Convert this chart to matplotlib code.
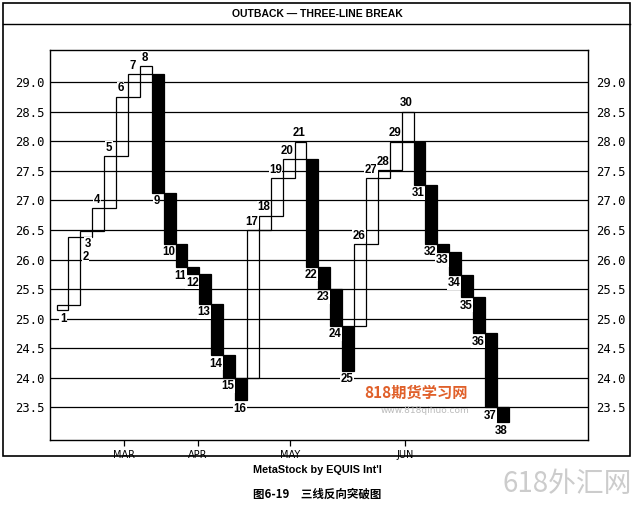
import matplotlib
matplotlib.use("Agg")
import matplotlib.pyplot as plt
from matplotlib.lines import Line2D
from matplotlib.patches import Rectangle

# three-line break lines
bar_open = [25.15, 25.23, 26.38, 26.49, 26.87, 27.75, 28.75, 29.13,
            29.13, 27.13, 26.26, 25.87, 25.75, 25.25, 24.38, 24.00,
            24.00, 26.50, 26.74, 27.37, 27.69,
            27.69, 25.88, 25.50, 24.88,
            24.88, 26.26, 27.37, 27.51, 27.99,
            27.99, 27.26, 26.26, 26.13, 25.74, 25.36, 24.75, 23.50]
bar_close = [25.23, 26.38, 26.49, 26.87, 27.75, 28.75, 29.13, 29.27,
             27.13, 26.26, 25.87, 25.75, 25.25, 24.38, 24.00, 23.62,
             26.50, 26.74, 27.37, 27.69, 27.99,
             25.88, 25.50, 24.88, 24.12,
             26.26, 27.37, 27.51, 27.99, 28.50,
             27.26, 26.26, 26.13, 25.74, 25.36, 24.75, 23.50, 23.25]

price_ticks = [23.5, 24.0, 24.5, 25.0, 25.5, 26.0, 26.5, 27.0, 27.5, 28.0, 28.5, 29.0]
month_pos = [5.67, 11.85, 19.6, 29.3]
month_names = ["MAR", "APR", "MAY", "JUN"]

fig = plt.figure(figsize=(6.35, 5.07), dpi=100)
ax = fig.add_axes([0.0787, 0.1321, 0.8473, 0.7693])

for y in price_ticks:
    ax.axhline(y, color="black", lw=0.9, zorder=1)

for i, (o, c) in enumerate(zip(bar_open, bar_close)):
    lo, hi = min(o, c), max(o, c)
    if c > o:
        ax.add_patch(Rectangle((i, lo), 1, hi - lo, facecolor="none",
                               edgecolor="black", lw=0.9, zorder=2))
    else:
        ax.add_patch(Rectangle((i, lo), 1, hi - lo, facecolor="black",
                               edgecolor="black", lw=0.9, zorder=3))

# bar numbers
lab_kw = dict(fontsize=8.3, fontweight="bold", family="Liberation Sans", ha="center",
              zorder=4, bbox=dict(facecolor="white", edgecolor="none", pad=0.3))
special = {0: (0.55, 25.0, "center"), 1: (2.45, 26.04, "center"), 2: (2.65, 26.27, "center")}
for i, (o, c) in enumerate(zip(bar_open, bar_close)):
    if i in special:
        x, y, va = special[i]
        ax.text(x, y, str(i + 1), va=va, **lab_kw)
    elif c > o:
        ax.text(i + 0.4, c + 0.04, str(i + 1), va="bottom", **lab_kw)
    else:
        ax.text(i + 0.4, c - 0.04, str(i + 1), va="top", **lab_kw)

ax.set_xlim(-0.55, 44.66)
ax.set_ylim(22.95, 29.54)
ax.set_yticks(price_ticks)
ax.set_yticklabels(["%.1f" % v for v in price_ticks], fontsize=8.8)
ax.tick_params(axis="y", length=0, pad=4, labelright=True, right=False)
for t in ax.yaxis.get_major_ticks():
    t.label1.set_family("DejaVu Sans Mono")
    t.label2.set_family("DejaVu Sans Mono")
    t.label2.set_x(1.004)
ax.set_xticks(month_pos)
ax.set_xticklabels(month_names, fontsize=7)
ax.tick_params(axis="x", length=4, width=0.9, direction="out", pad=3)
for s in ax.spines.values():
    s.set_linewidth(1.0)

# outer frame and title band
fig.add_artist(Rectangle((0.005, 0.1006), 0.987, 0.8934, transform=fig.transFigure,
                         facecolor="none", edgecolor="black", lw=1.2))
fig.add_artist(Line2D([0.005, 0.992], [0.9527, 0.9527], transform=fig.transFigure,
                      color="black", lw=1.0))
fig.text(0.5, 0.973, "OUTBACK \u2014 THREE-LINE BREAK", ha="center", va="center",
         fontsize=7.5, fontweight="bold", family="Liberation Sans")

fig.text(0.5, 0.073, "MetaStock by EQUIS Int'l", ha="center", va="center",
         fontsize=7.8, fontweight="bold", family="Liberation Sans")
fig.text(0.5, 0.026, "图6-19\u3000三线反向突破图", ha="center", va="center",
         fontsize=8.3, fontweight="bold", family=["Noto Sans CJK SC", "DejaVu Sans"])

# watermarks
fig.text(0.655, 0.225, "818期货学习网", ha="center", va="center", fontsize=11,
         fontweight="bold", color="#e0602a", family=["Noto Sans CJK SC", "DejaVu Sans"])
fig.text(0.67, 0.19, "www.818qihuo.com", ha="center", va="center", fontsize=6.5,
         color="#bbbbbb", family="DejaVu Sans")
fig.text(0.893, 0.045, "618外汇网", ha="center", va="center", fontsize=20,
         color="#cccccc", family=["Noto Sans CJK SC", "DejaVu Sans"], fontweight="light")

fig.savefig("out.png", dpi=100)
